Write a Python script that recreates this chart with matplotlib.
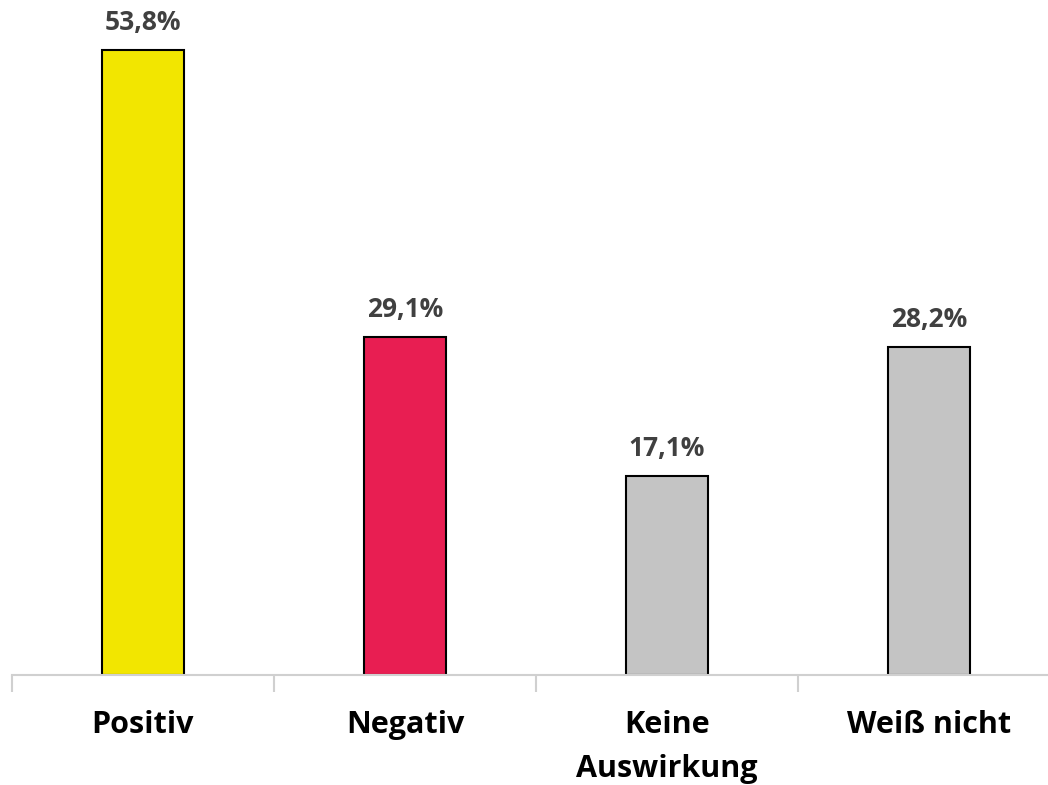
import matplotlib
matplotlib.use("Agg")
import matplotlib.pyplot as plt

categories = ["Positiv", "Negativ", "Keine\nAuswirkung", "Weiß nicht"]
values = [53.8, 29.1, 17.1, 28.2]
value_labels = ["53,8%", "29,1%", "17,1%", "28,2%"]
colors = ["#F2E600", "#E81E52", "#C4C4C4", "#C4C4C4"]

plt.rcParams['font.family'] = ['Open Sans', 'DejaVu Sans']

fig = plt.figure(figsize=(10.48, 7.85), dpi=100)
ax = fig.add_axes([12/1048, 110/785, 1048/1048, 675/785])
x = list(range(len(categories)))
ax.bar(x, values, width=0.31, color=colors, edgecolor="black", linewidth=1.5, zorder=2)
ax.set_xlim(-0.5, 3.5)
ax.set_ylim(0, 53.8 * 675 / 625)

for xi, v, lab in zip(x, values, value_labels):
    ax.annotate(lab, (xi, v), xytext=(0, 14.4), textcoords="offset points",
                ha="center", va="baseline", fontsize=19, fontweight="bold", color="#404040")

for s in ["top", "right", "left"]:
    ax.spines[s].set_visible(False)
ax.spines["bottom"].set_color("#D0D0D0")
ax.spines["bottom"].set_linewidth(1.5)
ax.set_yticks([])
ax.set_xticks([-0.5, 0.5, 1.5, 2.5, 3.5])
ax.set_xticklabels([])
ax.tick_params(axis="x", length=12, width=1.5, color="#D0D0D0")

for xi, c in zip(x, categories):
    ax.annotate(c, (xi, 0), xytext=(0, -25.5), textcoords="offset points",
                ha="center", va="top", fontsize=22, fontweight="bold",
                color="black", linespacing=1.6)

fig.savefig("out.png", dpi=100)
